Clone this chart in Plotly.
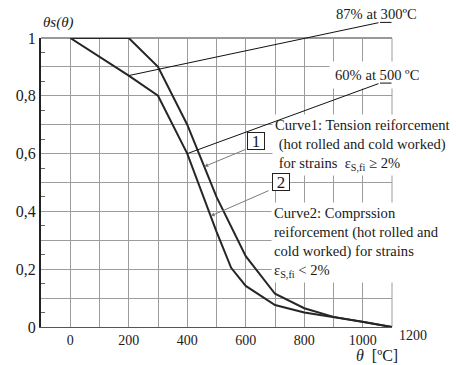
import plotly.graph_objects as go

# ---- data ----
temps1 = [0, 100, 200, 300, 400, 500, 600, 700, 800, 900, 1000, 1100]
curve1 = [1.0, 1.0, 1.0, 0.9, 0.7, 0.45, 0.245, 0.115, 0.065, 0.035, 0.018, 0.0]
temps2 = [0, 200, 300, 400, 500, 550, 600, 700, 800, 900, 1000, 1100]
curve2 = [1.0, 0.87, 0.8, 0.6, 0.33, 0.205, 0.142, 0.076, 0.05, 0.035, 0.018, 0.0]

x_ticks = list(range(0, 1101, 100))
x_labels = [str(v) if v % 200 == 0 else "" for v in x_ticks]
y_ticks = [i / 10 for i in range(11)]
y_labels = ["0", "", "0,2", "", "0,4", "", "0,6", "", "0,8", "", "1"]
y_minor = [i / 10 + 0.05 for i in range(10)]

X0, X1 = -100, 1100
Y0, Y1 = 0, 1

FONT = "Times New Roman"
INK = "#1a1a1a"
GRID = "#9c9c9c"


def px(x):
    return (x - X0) / (X1 - X0)


def py(y):
    return (y - Y0) / (Y1 - Y0)


fig = go.Figure()
fig.add_trace(go.Scatter(x=temps1, y=curve1, mode="lines",
                         line=dict(color="#262626", width=2), showlegend=False))
fig.add_trace(go.Scatter(x=temps2, y=curve2, mode="lines",
                         line=dict(color="#262626", width=2), showlegend=False))

ann = []
txt = dict(family=FONT, size=14.6, color=INK)

# axis titles / extra tick label
ann.append(dict(xref="paper", yref="paper", x=0.051, y=1.055, xanchor="center",
                yanchor="middle", text="<i>θs(θ)</i>", showarrow=False,
                font=dict(family=FONT, size=15, color=INK)))
ann.append(dict(xref="paper", yref="paper", x=0.957, y=-0.099, xanchor="center",
                yanchor="middle", text="<i>θ</i>  [ºC]", showarrow=False,
                font=dict(family=FONT, size=16, color=INK)))
ann.append(dict(xref="paper", yref="paper", x=1.06, y=-0.031, xanchor="center",
                yanchor="middle", text="1200", showarrow=False,
                font=dict(family=FONT, size=14, color=INK)))

# labels
ann.append(dict(xref="paper", yref="paper", x=0.957, y=1.083, xanchor="center",
                yanchor="middle", text="87% at 300ºC", showarrow=False, font=txt))
ann.append(dict(x=1047, y=0.872, xanchor="center", yanchor="middle",
                text="60% at 500 ºC", showarrow=False, font=txt,
                bgcolor="white", borderpad=5))
ann.append(dict(x=690, y=0.63, xanchor="left", yanchor="middle", align="left",
                text="Curve1: Tension reiforcement<br>&nbsp;(hot rolled and cold worked)<br>"
                     "&nbsp;for strains  ε<sub>S,fi</sub> ≥ 2%",
                showarrow=False, font=txt, bgcolor="white", borderpad=2))
ann.append(dict(x=686, y=0.291, xanchor="left", yanchor="middle", align="left",
                text="Curve2: Comprssion<br>reiforcement (hot rolled and<br>"
                     "cold worked) for strains<br>ε<sub>S,fi</sub> < 2%",
                showarrow=False, font=txt, bgcolor="white", borderpad=2))

# numbered boxes
for n, (bx, by) in {"1": (635, 0.644), "2": (720, 0.502)}.items():
    ann.append(dict(x=bx, y=by, text=n, showarrow=False, width=16, height=16,
                    font=dict(family=FONT, size=17, color=INK), bgcolor="white",
                    bordercolor="#222", borderwidth=1, borderpad=0))

# grey arrows from boxes to curves
ann.append(dict(x=458, y=0.555, ax=603, ay=0.616, axref="x", ayref="y", text="",
                showarrow=True, arrowhead=2, arrowsize=0.8, arrowwidth=1,
                arrowcolor="#7a7a7a", standoff=0))
ann.append(dict(x=480, y=0.384, ax=683, ay=0.474, axref="x", ayref="y", text="",
                showarrow=True, arrowhead=2, arrowsize=0.8, arrowwidth=1,
                arrowcolor="#7a7a7a", standoff=0))

# black leader lines (curve point -> knee, then short underline)
leaders = [((200, 0.87), (1059, 1.054)), ((400, 0.6), (1059, 0.844))]
for (cx, cy), (kx, ky) in leaders:
    ann.append(dict(x=cx, y=cy, ax=kx, ay=ky, axref="x", ayref="y", text="",
                    showarrow=True, arrowhead=0, arrowwidth=1, arrowcolor="#111",
                    standoff=0, startstandoff=0))
    ann.append(dict(xref="paper", yref="paper", x=px(kx), y=py(ky), ax=13, ay=0,
                    text="", showarrow=True, arrowhead=0, arrowwidth=1,
                    arrowcolor="#111", standoff=0))

# frame: top and right edges drawn like grid lines
shapes = [
    dict(type="line", xref="paper", yref="paper", x0=0, x1=1, y0=1, y1=1,
         line=dict(color="#777", width=1.5), layer="below"),
    dict(type="line", xref="paper", yref="paper", x0=1, x1=1, y0=0, y1=1,
         line=dict(color=GRID, width=1), layer="below"),
]

fig.update_layout(
    width=456, height=365,
    margin=dict(l=41, r=64, t=38, b=38, pad=0),
    paper_bgcolor="white", plot_bgcolor="white",
    font=dict(family=FONT, color=INK),
    annotations=ann,
    shapes=shapes,
    xaxis=dict(range=[X0, X1], tickvals=x_ticks, ticktext=x_labels, showgrid=True,
               gridcolor=GRID, gridwidth=1, zeroline=False, showline=True,
               linecolor="#555", linewidth=1, ticks="",
               tickfont=dict(family=FONT, size=14, color=INK)),
    yaxis=dict(range=[Y0, Y1], tickvals=y_ticks, ticktext=y_labels, showgrid=True,
               gridcolor=GRID, gridwidth=1, zeroline=False, showline=True,
               linecolor="#222", linewidth=2, ticks="",
               tickfont=dict(family=FONT, size=16, color=INK),
               minor=dict(tickvals=y_minor, ticks="inside", ticklen=4,
                          tickcolor="#666", showgrid=False)),
)

fig.write_html("out.html")
